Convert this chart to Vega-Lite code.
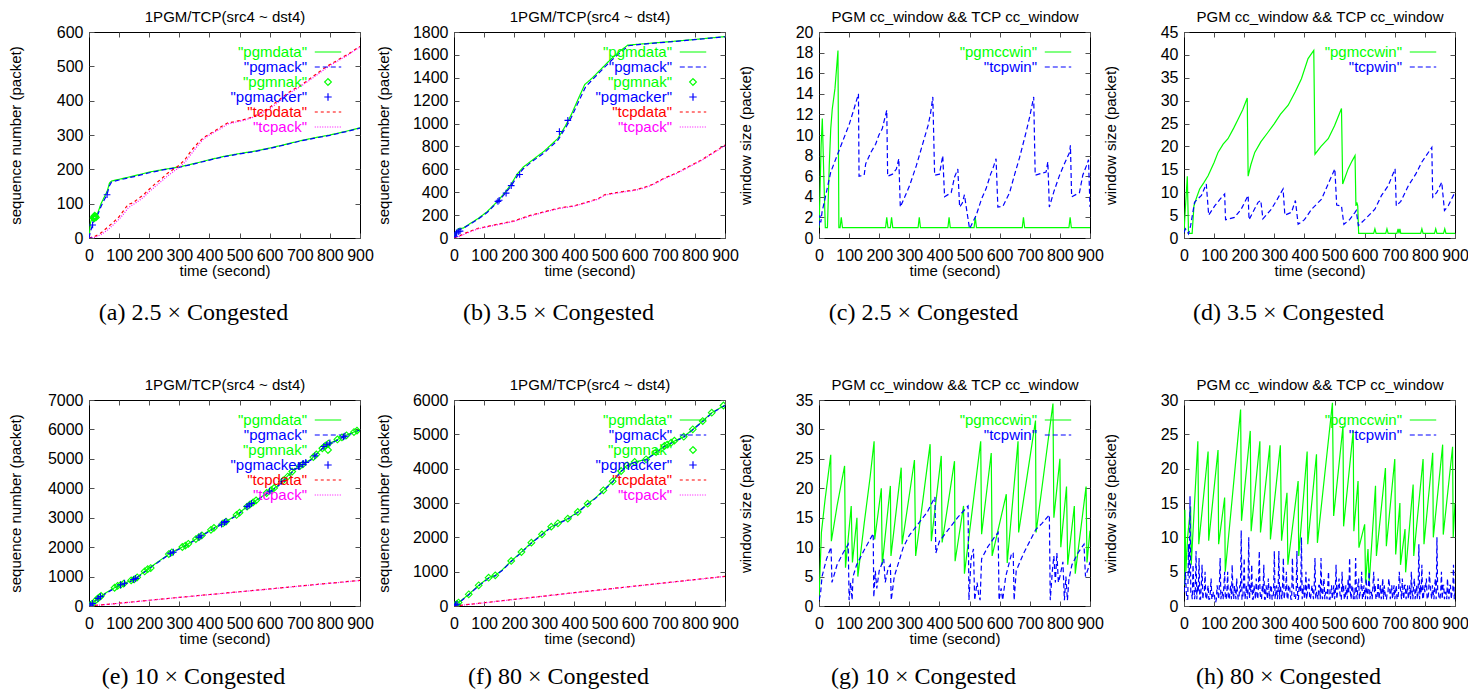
{
"$schema": "https://vega.github.io/schema/vega-lite/v6.json",
"background": "white",
"padding": {"left": 7, "top": 9, "right": 5, "bottom": 0},
"config": {
  "font": "Liberation Sans",
  "view": {"stroke": "#000000", "strokeWidth": 1},
  "axis": {"grid": false, "domain": false, "tickSize": -5, "tickColor": "#505050", "tickWidth": 1, "labelFont": "Liberation Sans", "labelFontSize": 16, "labelColor": "#000000", "titleFont": "Liberation Sans", "titleFontSize": 15, "titleFontWeight": "normal", "titleColor": "#000000", "labelFlush": false, "labelOverlap": false, "format": "d"},
  "axisBottom": {"labelPadding": 14, "titlePadding": 0},
  "axisLeft": {"labelPadding": 11},
  "axisTop": {"labels": false, "titlePadding": 7},
  "axisRight": {"labels": false},
  "legend": {"padding": 0, "rowPadding": 0, "clipHeight": 14, "labelAlign": "right", "labelOffset": -35, "symbolOffset": 10, "symbolSize": 100, "symbolStrokeWidth": 1.2, "labelFont": "Liberation Sans", "labelFontSize": 15, "symbolType": "stroke"},
  "title": {"orient": "bottom", "font": "Liberation Serif", "fontSize": 24, "fontWeight": "normal", "color": "#000000", "offset": 23, "dx": -31, "anchor": "middle", "frame": "group"}
},
"datasets": {
"a": [
{"s":"pgmdata","t":0,"v":0},{"s":"pgmdata","t":5,"v":45},{"s":"pgmdata","t":10,"v":58},{"s":"pgmdata","t":20,"v":64},{"s":"pgmdata","t":30,"v":75},{"s":"pgmdata","t":40,"v":100},{"s":"pgmdata","t":50,"v":118},{"s":"pgmdata","t":60,"v":135},{"s":"pgmdata","t":68,"v":160},{"s":"pgmdata","t":75,"v":166},{"s":"pgmdata","t":100,"v":171},{"s":"pgmdata","t":150,"v":181},{"s":"pgmdata","t":200,"v":192},{"s":"pgmdata","t":250,"v":200},{"s":"pgmdata","t":300,"v":207},{"s":"pgmdata","t":350,"v":217},{"s":"pgmdata","t":400,"v":228},{"s":"pgmdata","t":450,"v":238},{"s":"pgmdata","t":500,"v":246},{"s":"pgmdata","t":550,"v":253},{"s":"pgmdata","t":600,"v":262},{"s":"pgmdata","t":650,"v":272},{"s":"pgmdata","t":700,"v":283},{"s":"pgmdata","t":750,"v":292},{"s":"pgmdata","t":800,"v":300},{"s":"pgmdata","t":850,"v":310},{"s":"pgmdata","t":900,"v":321},
{"s":"pgmack","t":0,"v":0},{"s":"pgmack","t":5,"v":20},{"s":"pgmack","t":12,"v":38},{"s":"pgmack","t":20,"v":58},{"s":"pgmack","t":30,"v":70},{"s":"pgmack","t":40,"v":92},{"s":"pgmack","t":50,"v":110},{"s":"pgmack","t":60,"v":127},{"s":"pgmack","t":68,"v":152},{"s":"pgmack","t":75,"v":163},{"s":"pgmack","t":100,"v":169},{"s":"pgmack","t":150,"v":179},{"s":"pgmack","t":200,"v":190},{"s":"pgmack","t":250,"v":199},{"s":"pgmack","t":300,"v":206},{"s":"pgmack","t":350,"v":216},{"s":"pgmack","t":400,"v":227},{"s":"pgmack","t":450,"v":237},{"s":"pgmack","t":500,"v":245},{"s":"pgmack","t":550,"v":252},{"s":"pgmack","t":600,"v":261},{"s":"pgmack","t":650,"v":271},{"s":"pgmack","t":700,"v":282},{"s":"pgmack","t":750,"v":291},{"s":"pgmack","t":800,"v":299},{"s":"pgmack","t":850,"v":309},{"s":"pgmack","t":900,"v":320},
{"s":"tcpdata","t":0,"v":0},{"s":"tcpdata","t":20,"v":5},{"s":"tcpdata","t":40,"v":15},{"s":"tcpdata","t":60,"v":30},{"s":"tcpdata","t":80,"v":45},{"s":"tcpdata","t":100,"v":62},{"s":"tcpdata","t":115,"v":80},{"s":"tcpdata","t":130,"v":98},{"s":"tcpdata","t":145,"v":102},{"s":"tcpdata","t":160,"v":112},{"s":"tcpdata","t":180,"v":125},{"s":"tcpdata","t":200,"v":142},{"s":"tcpdata","t":220,"v":158},{"s":"tcpdata","t":240,"v":172},{"s":"tcpdata","t":260,"v":188},{"s":"tcpdata","t":280,"v":200},{"s":"tcpdata","t":300,"v":212},{"s":"tcpdata","t":320,"v":230},{"s":"tcpdata","t":340,"v":255},{"s":"tcpdata","t":360,"v":275},{"s":"tcpdata","t":380,"v":292},{"s":"tcpdata","t":400,"v":303},{"s":"tcpdata","t":420,"v":313},{"s":"tcpdata","t":440,"v":325},{"s":"tcpdata","t":460,"v":335},{"s":"tcpdata","t":480,"v":338},{"s":"tcpdata","t":500,"v":342},{"s":"tcpdata","t":520,"v":346},{"s":"tcpdata","t":540,"v":352},{"s":"tcpdata","t":560,"v":360},{"s":"tcpdata","t":580,"v":370},{"s":"tcpdata","t":600,"v":380},{"s":"tcpdata","t":620,"v":395},{"s":"tcpdata","t":640,"v":408},{"s":"tcpdata","t":660,"v":422},{"s":"tcpdata","t":680,"v":433},{"s":"tcpdata","t":700,"v":443},{"s":"tcpdata","t":720,"v":455},{"s":"tcpdata","t":740,"v":468},{"s":"tcpdata","t":760,"v":481},{"s":"tcpdata","t":780,"v":494},{"s":"tcpdata","t":800,"v":505},{"s":"tcpdata","t":820,"v":515},{"s":"tcpdata","t":840,"v":526},{"s":"tcpdata","t":860,"v":535},{"s":"tcpdata","t":880,"v":547},{"s":"tcpdata","t":900,"v":558},
{"s":"tcpack","t":0,"v":0},{"s":"tcpack","t":20,"v":2},{"s":"tcpack","t":40,"v":10},{"s":"tcpack","t":60,"v":22},{"s":"tcpack","t":80,"v":38},{"s":"tcpack","t":100,"v":55},{"s":"tcpack","t":115,"v":70},{"s":"tcpack","t":130,"v":88},{"s":"tcpack","t":145,"v":97},{"s":"tcpack","t":160,"v":105},{"s":"tcpack","t":180,"v":118},{"s":"tcpack","t":200,"v":135},{"s":"tcpack","t":220,"v":150},{"s":"tcpack","t":240,"v":165},{"s":"tcpack","t":260,"v":180},{"s":"tcpack","t":280,"v":193},{"s":"tcpack","t":300,"v":206},{"s":"tcpack","t":320,"v":222},{"s":"tcpack","t":340,"v":245},{"s":"tcpack","t":360,"v":268},{"s":"tcpack","t":380,"v":288},{"s":"tcpack","t":400,"v":300},{"s":"tcpack","t":420,"v":310},{"s":"tcpack","t":440,"v":320},{"s":"tcpack","t":460,"v":332},{"s":"tcpack","t":480,"v":336},{"s":"tcpack","t":500,"v":340},{"s":"tcpack","t":520,"v":344},{"s":"tcpack","t":540,"v":350},{"s":"tcpack","t":560,"v":357},{"s":"tcpack","t":580,"v":366},{"s":"tcpack","t":600,"v":376},{"s":"tcpack","t":620,"v":390},{"s":"tcpack","t":640,"v":404},{"s":"tcpack","t":660,"v":418},{"s":"tcpack","t":680,"v":430},{"s":"tcpack","t":700,"v":440},{"s":"tcpack","t":720,"v":452},{"s":"tcpack","t":740,"v":464},{"s":"tcpack","t":760,"v":477},{"s":"tcpack","t":780,"v":490},{"s":"tcpack","t":800,"v":502},{"s":"tcpack","t":820,"v":512},{"s":"tcpack","t":840,"v":523},{"s":"tcpack","t":860,"v":533},{"s":"tcpack","t":880,"v":545},{"s":"tcpack","t":900,"v":556},
{"s":"pgmnak","t":15,"v":58},{"s":"pgmnak","t":17,"v":62},{"s":"pgmnak","t":19,"v":65},{"s":"pgmnak","t":21,"v":62},{"s":"pgmnak","t":23,"v":60},{"s":"pgmnak","t":18,"v":58},
{"s":"pgmacker","t":0,"v":0},{"s":"pgmacker","t":12,"v":38},{"s":"pgmacker","t":60,"v":126}
],
"b": [
{"s":"pgmdata","t":0,"v":0},{"s":"pgmdata","t":8,"v":60},{"s":"pgmdata","t":15,"v":82},{"s":"pgmdata","t":30,"v":86},{"s":"pgmdata","t":50,"v":120},{"s":"pgmdata","t":80,"v":170},{"s":"pgmdata","t":110,"v":230},{"s":"pgmdata","t":146,"v":325},{"s":"pgmdata","t":170,"v":400},{"s":"pgmdata","t":190,"v":470},{"s":"pgmdata","t":210,"v":560},{"s":"pgmdata","t":230,"v":620},{"s":"pgmdata","t":260,"v":680},{"s":"pgmdata","t":300,"v":760},{"s":"pgmdata","t":345,"v":870},{"s":"pgmdata","t":370,"v":980},{"s":"pgmdata","t":390,"v":1080},{"s":"pgmdata","t":410,"v":1200},{"s":"pgmdata","t":434,"v":1340},{"s":"pgmdata","t":460,"v":1400},{"s":"pgmdata","t":490,"v":1480},{"s":"pgmdata","t":520,"v":1560},{"s":"pgmdata","t":550,"v":1630},{"s":"pgmdata","t":577,"v":1685},{"s":"pgmdata","t":620,"v":1695},{"s":"pgmdata","t":700,"v":1712},{"s":"pgmdata","t":800,"v":1735},{"s":"pgmdata","t":900,"v":1760},
{"s":"pgmack","t":0,"v":0},{"s":"pgmack","t":8,"v":40},{"s":"pgmack","t":15,"v":70},{"s":"pgmack","t":30,"v":84},{"s":"pgmack","t":50,"v":115},{"s":"pgmack","t":80,"v":165},{"s":"pgmack","t":110,"v":222},{"s":"pgmack","t":146,"v":318},{"s":"pgmack","t":170,"v":390},{"s":"pgmack","t":190,"v":455},{"s":"pgmack","t":210,"v":540},{"s":"pgmack","t":230,"v":605},{"s":"pgmack","t":260,"v":670},{"s":"pgmack","t":300,"v":745},{"s":"pgmack","t":345,"v":855},{"s":"pgmack","t":370,"v":960},{"s":"pgmack","t":390,"v":1055},{"s":"pgmack","t":410,"v":1170},{"s":"pgmack","t":437,"v":1320},{"s":"pgmack","t":460,"v":1385},{"s":"pgmack","t":490,"v":1465},{"s":"pgmack","t":520,"v":1545},{"s":"pgmack","t":550,"v":1615},{"s":"pgmack","t":580,"v":1680},{"s":"pgmack","t":620,"v":1692},{"s":"pgmack","t":700,"v":1710},{"s":"pgmack","t":800,"v":1733},{"s":"pgmack","t":900,"v":1758},
{"s":"tcpdata","t":0,"v":0},{"s":"tcpdata","t":20,"v":20},{"s":"tcpdata","t":40,"v":45},{"s":"tcpdata","t":60,"v":65},{"s":"tcpdata","t":80,"v":85},{"s":"tcpdata","t":100,"v":95},{"s":"tcpdata","t":130,"v":112},{"s":"tcpdata","t":160,"v":128},{"s":"tcpdata","t":200,"v":150},{"s":"tcpdata","t":250,"v":195},{"s":"tcpdata","t":300,"v":230},{"s":"tcpdata","t":350,"v":262},{"s":"tcpdata","t":400,"v":282},{"s":"tcpdata","t":450,"v":320},{"s":"tcpdata","t":480,"v":345},{"s":"tcpdata","t":500,"v":378},{"s":"tcpdata","t":520,"v":388},{"s":"tcpdata","t":560,"v":405},{"s":"tcpdata","t":600,"v":420},{"s":"tcpdata","t":630,"v":440},{"s":"tcpdata","t":660,"v":470},{"s":"tcpdata","t":700,"v":525},{"s":"tcpdata","t":740,"v":570},{"s":"tcpdata","t":780,"v":625},{"s":"tcpdata","t":820,"v":680},{"s":"tcpdata","t":860,"v":745},{"s":"tcpdata","t":900,"v":812},
{"s":"tcpack","t":0,"v":0},{"s":"tcpack","t":20,"v":15},{"s":"tcpack","t":40,"v":40},{"s":"tcpack","t":60,"v":60},{"s":"tcpack","t":80,"v":80},{"s":"tcpack","t":100,"v":92},{"s":"tcpack","t":130,"v":108},{"s":"tcpack","t":160,"v":124},{"s":"tcpack","t":200,"v":146},{"s":"tcpack","t":250,"v":190},{"s":"tcpack","t":300,"v":226},{"s":"tcpack","t":350,"v":258},{"s":"tcpack","t":400,"v":278},{"s":"tcpack","t":450,"v":316},{"s":"tcpack","t":480,"v":340},{"s":"tcpack","t":500,"v":373},{"s":"tcpack","t":520,"v":384},{"s":"tcpack","t":560,"v":401},{"s":"tcpack","t":600,"v":416},{"s":"tcpack","t":630,"v":436},{"s":"tcpack","t":660,"v":465},{"s":"tcpack","t":700,"v":520},{"s":"tcpack","t":740,"v":565},{"s":"tcpack","t":780,"v":620},{"s":"tcpack","t":820,"v":675},{"s":"tcpack","t":860,"v":740},{"s":"tcpack","t":900,"v":807},
{"s":"pgmacker","t":3,"v":15},{"s":"pgmacker","t":8,"v":45},{"s":"pgmacker","t":14,"v":55},{"s":"pgmacker","t":20,"v":60},{"s":"pgmacker","t":146,"v":320},{"s":"pgmacker","t":150,"v":330},{"s":"pgmacker","t":173,"v":392},{"s":"pgmacker","t":190,"v":458},{"s":"pgmacker","t":218,"v":555},{"s":"pgmacker","t":350,"v":930},{"s":"pgmacker","t":378,"v":1028}
],
"c": [
{"s":"pgmccwin","t":0,"v":1},{"s":"pgmccwin","t":3,"v":4},{"s":"pgmccwin","t":7,"v":9},{"s":"pgmccwin","t":11,"v":11.6},{"s":"pgmccwin","t":16,"v":6},{"s":"pgmccwin","t":21,"v":1},{"s":"pgmccwin","t":28,"v":1},{"s":"pgmccwin","t":34,"v":7},{"s":"pgmccwin","t":39,"v":10.6},{"s":"pgmccwin","t":44,"v":12.5},{"s":"pgmccwin","t":53,"v":14.5},{"s":"pgmccwin","t":63,"v":18.2},{"s":"pgmccwin","t":66,"v":1},{"s":"pgmccwin","t":70,"v":1},{"s":"pgmccwin","t":74,"v":2},{"s":"pgmccwin","t":78,"v":1},{"s":"pgmccwin","t":221,"v":1},{"s":"pgmccwin","t":225,"v":2},{"s":"pgmccwin","t":229,"v":1},{"s":"pgmccwin","t":237,"v":1},{"s":"pgmccwin","t":241,"v":2},{"s":"pgmccwin","t":245,"v":1},{"s":"pgmccwin","t":329,"v":1},{"s":"pgmccwin","t":333,"v":2},{"s":"pgmccwin","t":337,"v":1},{"s":"pgmccwin","t":428,"v":1},{"s":"pgmccwin","t":432,"v":2},{"s":"pgmccwin","t":436,"v":1},{"s":"pgmccwin","t":515,"v":1},{"s":"pgmccwin","t":519,"v":2},{"s":"pgmccwin","t":523,"v":1},{"s":"pgmccwin","t":675,"v":1},{"s":"pgmccwin","t":679,"v":2},{"s":"pgmccwin","t":683,"v":1},{"s":"pgmccwin","t":830,"v":1},{"s":"pgmccwin","t":834,"v":2},{"s":"pgmccwin","t":838,"v":1},{"s":"pgmccwin","t":900,"v":1},
{"s":"tcpwin","t":0,"v":1.2},{"s":"tcpwin","t":3,"v":2.2},{"s":"tcpwin","t":6,"v":1.5},{"s":"tcpwin","t":10,"v":2.5},{"s":"tcpwin","t":22,"v":4.1},{"s":"tcpwin","t":39,"v":6.4},{"s":"tcpwin","t":60,"v":8},{"s":"tcpwin","t":80,"v":9.5},{"s":"tcpwin","t":100,"v":11},{"s":"tcpwin","t":116,"v":12.5},{"s":"tcpwin","t":131,"v":14},{"s":"tcpwin","t":133,"v":6},{"s":"tcpwin","t":150,"v":6.1},{"s":"tcpwin","t":155,"v":7.2},{"s":"tcpwin","t":172,"v":8.3},{"s":"tcpwin","t":188,"v":9.1},{"s":"tcpwin","t":199,"v":10},{"s":"tcpwin","t":210,"v":10.6},{"s":"tcpwin","t":215,"v":11.2},{"s":"tcpwin","t":225,"v":12.4},{"s":"tcpwin","t":228,"v":6},{"s":"tcpwin","t":244,"v":6.2},{"s":"tcpwin","t":257,"v":6.7},{"s":"tcpwin","t":265,"v":7.7},{"s":"tcpwin","t":270,"v":3},{"s":"tcpwin","t":285,"v":4},{"s":"tcpwin","t":301,"v":5.1},{"s":"tcpwin","t":323,"v":7},{"s":"tcpwin","t":340,"v":8.7},{"s":"tcpwin","t":362,"v":10.9},{"s":"tcpwin","t":370,"v":12},{"s":"tcpwin","t":378,"v":13.7},{"s":"tcpwin","t":384,"v":6.1},{"s":"tcpwin","t":400,"v":6.2},{"s":"tcpwin","t":411,"v":8},{"s":"tcpwin","t":417,"v":4},{"s":"tcpwin","t":439,"v":4.4},{"s":"tcpwin","t":450,"v":5.9},{"s":"tcpwin","t":461,"v":6.7},{"s":"tcpwin","t":467,"v":3},{"s":"tcpwin","t":476,"v":3.4},{"s":"tcpwin","t":483,"v":4.2},{"s":"tcpwin","t":490,"v":2.8},{"s":"tcpwin","t":500,"v":0.9},{"s":"tcpwin","t":522,"v":2.2},{"s":"tcpwin","t":540,"v":3.8},{"s":"tcpwin","t":555,"v":4.8},{"s":"tcpwin","t":570,"v":6.2},{"s":"tcpwin","t":577,"v":6.7},{"s":"tcpwin","t":588,"v":7.7},{"s":"tcpwin","t":594,"v":3},{"s":"tcpwin","t":611,"v":3.1},{"s":"tcpwin","t":633,"v":4.4},{"s":"tcpwin","t":650,"v":6.2},{"s":"tcpwin","t":666,"v":7.8},{"s":"tcpwin","t":688,"v":10.3},{"s":"tcpwin","t":700,"v":11.8},{"s":"tcpwin","t":713,"v":13.7},{"s":"tcpwin","t":718,"v":6.1},{"s":"tcpwin","t":754,"v":6.4},{"s":"tcpwin","t":760,"v":7.4},{"s":"tcpwin","t":765,"v":3},{"s":"tcpwin","t":780,"v":4.5},{"s":"tcpwin","t":799,"v":6.1},{"s":"tcpwin","t":815,"v":7.2},{"s":"tcpwin","t":832,"v":8.3},{"s":"tcpwin","t":835,"v":9},{"s":"tcpwin","t":839,"v":4},{"s":"tcpwin","t":865,"v":4.4},{"s":"tcpwin","t":876,"v":6.1},{"s":"tcpwin","t":888,"v":7},{"s":"tcpwin","t":895,"v":7.6},{"s":"tcpwin","t":900,"v":3}
],
"d": [
{"s":"pgmccwin","t":0,"v":1.2},{"s":"pgmccwin","t":5,"v":7},{"s":"pgmccwin","t":11,"v":13.5},{"s":"pgmccwin","t":15,"v":1},{"s":"pgmccwin","t":27,"v":1},{"s":"pgmccwin","t":33,"v":7},{"s":"pgmccwin","t":40,"v":8.5},{"s":"pgmccwin","t":52,"v":10.7},{"s":"pgmccwin","t":65,"v":12},{"s":"pgmccwin","t":80,"v":13.6},{"s":"pgmccwin","t":100,"v":16.5},{"s":"pgmccwin","t":113,"v":18.7},{"s":"pgmccwin","t":130,"v":20.5},{"s":"pgmccwin","t":146,"v":21.7},{"s":"pgmccwin","t":165,"v":24},{"s":"pgmccwin","t":180,"v":26},{"s":"pgmccwin","t":195,"v":28},{"s":"pgmccwin","t":210,"v":30.6},{"s":"pgmccwin","t":213,"v":13.5},{"s":"pgmccwin","t":222,"v":16},{"s":"pgmccwin","t":235,"v":18.7},{"s":"pgmccwin","t":255,"v":21},{"s":"pgmccwin","t":279,"v":23.1},{"s":"pgmccwin","t":300,"v":25},{"s":"pgmccwin","t":320,"v":27},{"s":"pgmccwin","t":346,"v":29},{"s":"pgmccwin","t":370,"v":32},{"s":"pgmccwin","t":390,"v":34.8},{"s":"pgmccwin","t":412,"v":39.2},{"s":"pgmccwin","t":431,"v":41},{"s":"pgmccwin","t":435,"v":18.3},{"s":"pgmccwin","t":455,"v":20},{"s":"pgmccwin","t":479,"v":21.7},{"s":"pgmccwin","t":500,"v":24.5},{"s":"pgmccwin","t":523,"v":28.3},{"s":"pgmccwin","t":527,"v":11.8},{"s":"pgmccwin","t":545,"v":15.1},{"s":"pgmccwin","t":558,"v":16.8},{"s":"pgmccwin","t":568,"v":18},{"s":"pgmccwin","t":571,"v":7},{"s":"pgmccwin","t":574,"v":7.8},{"s":"pgmccwin","t":577,"v":7},{"s":"pgmccwin","t":580,"v":1},{"s":"pgmccwin","t":630,"v":1},{"s":"pgmccwin","t":634,"v":2},{"s":"pgmccwin","t":638,"v":1},{"s":"pgmccwin","t":670,"v":1},{"s":"pgmccwin","t":674,"v":2},{"s":"pgmccwin","t":678,"v":1},{"s":"pgmccwin","t":707,"v":1},{"s":"pgmccwin","t":711,"v":2},{"s":"pgmccwin","t":714,"v":1},{"s":"pgmccwin","t":717,"v":2},{"s":"pgmccwin","t":720,"v":1},{"s":"pgmccwin","t":786,"v":1},{"s":"pgmccwin","t":790,"v":2},{"s":"pgmccwin","t":794,"v":1},{"s":"pgmccwin","t":832,"v":1},{"s":"pgmccwin","t":836,"v":2},{"s":"pgmccwin","t":840,"v":1},{"s":"pgmccwin","t":862,"v":1},{"s":"pgmccwin","t":866,"v":2},{"s":"pgmccwin","t":870,"v":1},{"s":"pgmccwin","t":900,"v":1},
{"s":"tcpwin","t":0,"v":1.2},{"s":"tcpwin","t":5,"v":2},{"s":"tcpwin","t":10,"v":1.5},{"s":"tcpwin","t":15,"v":0.9},{"s":"tcpwin","t":22,"v":2.7},{"s":"tcpwin","t":35,"v":7.8},{"s":"tcpwin","t":45,"v":8.5},{"s":"tcpwin","t":58,"v":9.3},{"s":"tcpwin","t":74,"v":11.8},{"s":"tcpwin","t":82,"v":5},{"s":"tcpwin","t":102,"v":7},{"s":"tcpwin","t":120,"v":8.5},{"s":"tcpwin","t":135,"v":9.6},{"s":"tcpwin","t":138,"v":4},{"s":"tcpwin","t":168,"v":4.5},{"s":"tcpwin","t":190,"v":6.3},{"s":"tcpwin","t":213,"v":9.3},{"s":"tcpwin","t":216,"v":4},{"s":"tcpwin","t":246,"v":7.8},{"s":"tcpwin","t":255,"v":8.2},{"s":"tcpwin","t":262,"v":4.2},{"s":"tcpwin","t":290,"v":6.3},{"s":"tcpwin","t":310,"v":8.5},{"s":"tcpwin","t":329,"v":10.7},{"s":"tcpwin","t":335,"v":5},{"s":"tcpwin","t":357,"v":5.6},{"s":"tcpwin","t":370,"v":8.2},{"s":"tcpwin","t":379,"v":3},{"s":"tcpwin","t":400,"v":4},{"s":"tcpwin","t":424,"v":6.3},{"s":"tcpwin","t":457,"v":8.5},{"s":"tcpwin","t":480,"v":12},{"s":"tcpwin","t":501,"v":15.1},{"s":"tcpwin","t":507,"v":7.2},{"s":"tcpwin","t":523,"v":7},{"s":"tcpwin","t":531,"v":3},{"s":"tcpwin","t":550,"v":4},{"s":"tcpwin","t":568,"v":5.6},{"s":"tcpwin","t":572,"v":6},{"s":"tcpwin","t":579,"v":2.7},{"s":"tcpwin","t":600,"v":4},{"s":"tcpwin","t":634,"v":6.3},{"s":"tcpwin","t":656,"v":9.3},{"s":"tcpwin","t":678,"v":11.4},{"s":"tcpwin","t":701,"v":15.1},{"s":"tcpwin","t":705,"v":7},{"s":"tcpwin","t":720,"v":8},{"s":"tcpwin","t":745,"v":11.4},{"s":"tcpwin","t":770,"v":14},{"s":"tcpwin","t":789,"v":16.5},{"s":"tcpwin","t":823,"v":19.8},{"s":"tcpwin","t":826,"v":8.9},{"s":"tcpwin","t":840,"v":10},{"s":"tcpwin","t":856,"v":12.2},{"s":"tcpwin","t":865,"v":6},{"s":"tcpwin","t":878,"v":7.1},{"s":"tcpwin","t":900,"v":10}
],
"e": [
{"s":"pgmdata","t":0,"v":0},{"s":"pgmdata","t":39,"v":340},{"s":"pgmdata","t":94,"v":680},{"s":"pgmdata","t":150,"v":906},{"s":"pgmdata","t":194,"v":1246},{"s":"pgmdata","t":272,"v":1812},{"s":"pgmdata","t":321,"v":2061},{"s":"pgmdata","t":371,"v":2378},{"s":"pgmdata","t":416,"v":2661},{"s":"pgmdata","t":449,"v":2831},{"s":"pgmdata","t":493,"v":3114},{"s":"pgmdata","t":527,"v":3397},{"s":"pgmdata","t":560,"v":3624},{"s":"pgmdata","t":626,"v":4077},{"s":"pgmdata","t":682,"v":4643},{"s":"pgmdata","t":737,"v":4983},{"s":"pgmdata","t":782,"v":5436},{"s":"pgmdata","t":815,"v":5606},{"s":"pgmdata","t":848,"v":5776},{"s":"pgmdata","t":900,"v":6000},
{"s":"pgmack","t":0,"v":0},{"s":"pgmack","t":39,"v":320},{"s":"pgmack","t":94,"v":660},{"s":"pgmack","t":150,"v":886},{"s":"pgmack","t":194,"v":1226},{"s":"pgmack","t":272,"v":1792},{"s":"pgmack","t":321,"v":2041},{"s":"pgmack","t":371,"v":2358},{"s":"pgmack","t":416,"v":2641},{"s":"pgmack","t":449,"v":2811},{"s":"pgmack","t":493,"v":3094},{"s":"pgmack","t":527,"v":3377},{"s":"pgmack","t":560,"v":3604},{"s":"pgmack","t":626,"v":4057},{"s":"pgmack","t":682,"v":4623},{"s":"pgmack","t":737,"v":4963},{"s":"pgmack","t":782,"v":5416},{"s":"pgmack","t":815,"v":5586},{"s":"pgmack","t":848,"v":5756},{"s":"pgmack","t":900,"v":5980},
{"s":"tcpdata","t":0,"v":0},{"s":"tcpdata","t":100,"v":95},{"s":"tcpdata","t":200,"v":195},{"s":"tcpdata","t":300,"v":295},{"s":"tcpdata","t":400,"v":390},{"s":"tcpdata","t":500,"v":485},{"s":"tcpdata","t":600,"v":580},{"s":"tcpdata","t":700,"v":680},{"s":"tcpdata","t":800,"v":775},{"s":"tcpdata","t":900,"v":870},
{"s":"tcpack","t":0,"v":0},{"s":"tcpack","t":100,"v":90},{"s":"tcpack","t":200,"v":190},{"s":"tcpack","t":300,"v":290},{"s":"tcpack","t":400,"v":385},{"s":"tcpack","t":500,"v":480},{"s":"tcpack","t":600,"v":575},{"s":"tcpack","t":700,"v":675},{"s":"tcpack","t":800,"v":770},{"s":"tcpack","t":900,"v":865},
{"s":"pgmnak","t":5,"v":30},{"s":"pgmnak","t":10,"v":70},{"s":"pgmnak","t":25,"v":220},{"s":"pgmnak","t":30,"v":260},{"s":"pgmnak","t":35,"v":300},{"s":"pgmnak","t":40,"v":345},{"s":"pgmnak","t":85,"v":620},{"s":"pgmnak","t":95,"v":685},{"s":"pgmnak","t":105,"v":720},{"s":"pgmnak","t":115,"v":760},{"s":"pgmnak","t":140,"v":870},{"s":"pgmnak","t":150,"v":906},{"s":"pgmnak","t":160,"v":975},{"s":"pgmnak","t":185,"v":1175},{"s":"pgmnak","t":195,"v":1250},{"s":"pgmnak","t":205,"v":1290},{"s":"pgmnak","t":265,"v":1765},{"s":"pgmnak","t":275,"v":1820},{"s":"pgmnak","t":310,"v":2005},{"s":"pgmnak","t":320,"v":2055},{"s":"pgmnak","t":330,"v":2115},{"s":"pgmnak","t":355,"v":2275},{"s":"pgmnak","t":365,"v":2340},{"s":"pgmnak","t":375,"v":2400},{"s":"pgmnak","t":405,"v":2590},{"s":"pgmnak","t":415,"v":2655},{"s":"pgmnak","t":445,"v":2810},{"s":"pgmnak","t":455,"v":2870},{"s":"pgmnak","t":490,"v":3095},{"s":"pgmnak","t":500,"v":3170},{"s":"pgmnak","t":525,"v":3380},{"s":"pgmnak","t":535,"v":3450},{"s":"pgmnak","t":545,"v":3520},{"s":"pgmnak","t":555,"v":3590},{"s":"pgmnak","t":590,"v":3840},{"s":"pgmnak","t":605,"v":3940},{"s":"pgmnak","t":615,"v":4010},{"s":"pgmnak","t":645,"v":4270},{"s":"pgmnak","t":660,"v":4400},{"s":"pgmnak","t":675,"v":4570},{"s":"pgmnak","t":700,"v":4750},{"s":"pgmnak","t":710,"v":4810},{"s":"pgmnak","t":745,"v":5060},{"s":"pgmnak","t":755,"v":5150},{"s":"pgmnak","t":775,"v":5360},{"s":"pgmnak","t":785,"v":5450},{"s":"pgmnak","t":795,"v":5520},{"s":"pgmnak","t":825,"v":5660},{"s":"pgmnak","t":840,"v":5730},{"s":"pgmnak","t":855,"v":5800},{"s":"pgmnak","t":880,"v":5910},{"s":"pgmnak","t":890,"v":5960},
{"s":"pgmacker","t":5,"v":30},{"s":"pgmacker","t":12,"v":90},{"s":"pgmacker","t":30,"v":260},{"s":"pgmacker","t":38,"v":320},{"s":"pgmacker","t":105,"v":720},{"s":"pgmacker","t":118,"v":775},{"s":"pgmacker","t":148,"v":900},{"s":"pgmacker","t":155,"v":940},{"s":"pgmacker","t":270,"v":1790},{"s":"pgmacker","t":280,"v":1830},{"s":"pgmacker","t":365,"v":2340},{"s":"pgmacker","t":372,"v":2385},{"s":"pgmacker","t":440,"v":2780},{"s":"pgmacker","t":450,"v":2840},{"s":"pgmacker","t":455,"v":2870},{"s":"pgmacker","t":525,"v":3385},{"s":"pgmacker","t":532,"v":3430},{"s":"pgmacker","t":540,"v":3485},{"s":"pgmacker","t":600,"v":3900},{"s":"pgmacker","t":640,"v":4230},{"s":"pgmacker","t":700,"v":4750},{"s":"pgmacker","t":710,"v":4810},{"s":"pgmacker","t":720,"v":4880},{"s":"pgmacker","t":750,"v":5100},{"s":"pgmacker","t":780,"v":5420},{"s":"pgmacker","t":790,"v":5480},{"s":"pgmacker","t":800,"v":5540},{"s":"pgmacker","t":845,"v":5750},{"s":"pgmacker","t":850,"v":5770}
],
"f": [
{"s":"pgmdata","t":0,"v":0},{"s":"pgmdata","t":15,"v":100},{"s":"pgmdata","t":49,"v":340},{"s":"pgmdata","t":82,"v":602},{"s":"pgmdata","t":115,"v":825},{"s":"pgmdata","t":137,"v":893},{"s":"pgmdata","t":160,"v":1050},{"s":"pgmdata","t":190,"v":1311},{"s":"pgmdata","t":224,"v":1573},{"s":"pgmdata","t":257,"v":1845},{"s":"pgmdata","t":292,"v":2087},{"s":"pgmdata","t":323,"v":2311},{"s":"pgmdata","t":345,"v":2408},{"s":"pgmdata","t":378,"v":2544},{"s":"pgmdata","t":411,"v":2738},{"s":"pgmdata","t":444,"v":2980},{"s":"pgmdata","t":470,"v":3150},{"s":"pgmdata","t":496,"v":3369},{"s":"pgmdata","t":527,"v":3631},{"s":"pgmdata","t":555,"v":3932},{"s":"pgmdata","t":575,"v":4097},{"s":"pgmdata","t":600,"v":4194},{"s":"pgmdata","t":638,"v":4272},{"s":"pgmdata","t":671,"v":4485},{"s":"pgmdata","t":699,"v":4660},{"s":"pgmdata","t":721,"v":4757},{"s":"pgmdata","t":763,"v":4932},{"s":"pgmdata","t":793,"v":5146},{"s":"pgmdata","t":826,"v":5388},{"s":"pgmdata","t":856,"v":5631},{"s":"pgmdata","t":900,"v":5854},
{"s":"pgmack","t":0,"v":0},{"s":"pgmack","t":15,"v":85},{"s":"pgmack","t":49,"v":325},{"s":"pgmack","t":82,"v":587},{"s":"pgmack","t":115,"v":810},{"s":"pgmack","t":137,"v":878},{"s":"pgmack","t":160,"v":1035},{"s":"pgmack","t":190,"v":1296},{"s":"pgmack","t":224,"v":1558},{"s":"pgmack","t":257,"v":1830},{"s":"pgmack","t":292,"v":2072},{"s":"pgmack","t":323,"v":2296},{"s":"pgmack","t":345,"v":2393},{"s":"pgmack","t":378,"v":2529},{"s":"pgmack","t":411,"v":2723},{"s":"pgmack","t":444,"v":2965},{"s":"pgmack","t":470,"v":3135},{"s":"pgmack","t":496,"v":3354},{"s":"pgmack","t":527,"v":3616},{"s":"pgmack","t":555,"v":3917},{"s":"pgmack","t":575,"v":4082},{"s":"pgmack","t":600,"v":4179},{"s":"pgmack","t":638,"v":4257},{"s":"pgmack","t":671,"v":4470},{"s":"pgmack","t":699,"v":4645},{"s":"pgmack","t":721,"v":4742},{"s":"pgmack","t":763,"v":4917},{"s":"pgmack","t":793,"v":5131},{"s":"pgmack","t":826,"v":5373},{"s":"pgmack","t":856,"v":5616},{"s":"pgmack","t":900,"v":5840},
{"s":"tcpdata","t":0,"v":0},{"s":"tcpdata","t":100,"v":95},{"s":"tcpdata","t":200,"v":195},{"s":"tcpdata","t":300,"v":290},{"s":"tcpdata","t":400,"v":390},{"s":"tcpdata","t":500,"v":485},{"s":"tcpdata","t":600,"v":580},{"s":"tcpdata","t":700,"v":675},{"s":"tcpdata","t":800,"v":770},{"s":"tcpdata","t":900,"v":865},
{"s":"tcpack","t":0,"v":0},{"s":"tcpack","t":100,"v":90},{"s":"tcpack","t":200,"v":190},{"s":"tcpack","t":300,"v":285},{"s":"tcpack","t":400,"v":385},{"s":"tcpack","t":500,"v":480},{"s":"tcpack","t":600,"v":575},{"s":"tcpack","t":700,"v":670},{"s":"tcpack","t":800,"v":765},{"s":"tcpack","t":900,"v":860},
{"s":"pgmnak","t":5,"v":30},{"s":"pgmnak","t":10,"v":60},{"s":"pgmnak","t":15,"v":100},{"s":"pgmnak","t":49,"v":340},{"s":"pgmnak","t":82,"v":602},{"s":"pgmnak","t":115,"v":825},{"s":"pgmnak","t":137,"v":893},{"s":"pgmnak","t":190,"v":1311},{"s":"pgmnak","t":224,"v":1573},{"s":"pgmnak","t":257,"v":1845},{"s":"pgmnak","t":292,"v":2087},{"s":"pgmnak","t":323,"v":2311},{"s":"pgmnak","t":345,"v":2408},{"s":"pgmnak","t":378,"v":2544},{"s":"pgmnak","t":411,"v":2738},{"s":"pgmnak","t":444,"v":2980},{"s":"pgmnak","t":496,"v":3369},{"s":"pgmnak","t":527,"v":3631},{"s":"pgmnak","t":555,"v":3932},{"s":"pgmnak","t":575,"v":4097},{"s":"pgmnak","t":600,"v":4194},{"s":"pgmnak","t":638,"v":4272},{"s":"pgmnak","t":671,"v":4485},{"s":"pgmnak","t":699,"v":4660},{"s":"pgmnak","t":708,"v":4700},{"s":"pgmnak","t":721,"v":4757},{"s":"pgmnak","t":732,"v":4816},{"s":"pgmnak","t":763,"v":4932},{"s":"pgmnak","t":793,"v":5146},{"s":"pgmnak","t":826,"v":5388},{"s":"pgmnak","t":856,"v":5631},{"s":"pgmnak","t":895,"v":5840},
{"s":"pgmacker","t":0,"v":0},{"s":"pgmacker","t":5,"v":30},{"s":"pgmacker","t":10,"v":50}
],
"g": [
{"s":"pgmccwin","t":0,"v":1},{"s":"pgmccwin","t":8,"v":12.5},{"s":"pgmccwin","t":20,"v":18},{"s":"pgmccwin","t":39,"v":25.7},{"s":"pgmccwin","t":41,"v":11},{"s":"pgmccwin","t":60,"v":17},{"s":"pgmccwin","t":85,"v":23.8},{"s":"pgmccwin","t":88,"v":6.5},{"s":"pgmccwin","t":107,"v":17},{"s":"pgmccwin","t":111,"v":7.4},{"s":"pgmccwin","t":126,"v":15},{"s":"pgmccwin","t":129,"v":5},{"s":"pgmccwin","t":150,"v":14},{"s":"pgmccwin","t":170,"v":22},{"s":"pgmccwin","t":183,"v":28},{"s":"pgmccwin","t":185,"v":11.3},{"s":"pgmccwin","t":207,"v":20},{"s":"pgmccwin","t":210,"v":7},{"s":"pgmccwin","t":237,"v":20.4},{"s":"pgmccwin","t":239,"v":8.5},{"s":"pgmccwin","t":273,"v":23.5},{"s":"pgmccwin","t":276,"v":10.5},{"s":"pgmccwin","t":317,"v":24.8},{"s":"pgmccwin","t":321,"v":8.5},{"s":"pgmccwin","t":369,"v":27.5},{"s":"pgmccwin","t":373,"v":11},{"s":"pgmccwin","t":406,"v":25.5},{"s":"pgmccwin","t":409,"v":10.8},{"s":"pgmccwin","t":450,"v":24.6},{"s":"pgmccwin","t":452,"v":7.6},{"s":"pgmccwin","t":480,"v":17},{"s":"pgmccwin","t":483,"v":5.5},{"s":"pgmccwin","t":537,"v":28},{"s":"pgmccwin","t":540,"v":12.2},{"s":"pgmccwin","t":572,"v":26},{"s":"pgmccwin","t":575,"v":8.5},{"s":"pgmccwin","t":622,"v":19},{"s":"pgmccwin","t":625,"v":7.3},{"s":"pgmccwin","t":661,"v":28},{"s":"pgmccwin","t":663,"v":12.5},{"s":"pgmccwin","t":719,"v":31.5},{"s":"pgmccwin","t":721,"v":12.5},{"s":"pgmccwin","t":777,"v":34.4},{"s":"pgmccwin","t":780,"v":15},{"s":"pgmccwin","t":800,"v":25},{"s":"pgmccwin","t":803,"v":10},{"s":"pgmccwin","t":822,"v":20.3},{"s":"pgmccwin","t":826,"v":7},{"s":"pgmccwin","t":848,"v":17},{"s":"pgmccwin","t":851,"v":5.5},{"s":"pgmccwin","t":887,"v":20.3},{"s":"pgmccwin","t":890,"v":7.4},{"s":"pgmccwin","t":900,"v":12.8},
{"s":"tcpwin","t":0,"v":1},{"s":"tcpwin","t":5,"v":2},{"s":"tcpwin","t":10,"v":5},{"s":"tcpwin","t":25,"v":8},{"s":"tcpwin","t":40,"v":10},{"s":"tcpwin","t":43,"v":4},{"s":"tcpwin","t":60,"v":7},{"s":"tcpwin","t":80,"v":9},{"s":"tcpwin","t":97,"v":10.5},{"s":"tcpwin","t":100,"v":1},{"s":"tcpwin","t":105,"v":4},{"s":"tcpwin","t":110,"v":1},{"s":"tcpwin","t":113,"v":5},{"s":"tcpwin","t":125,"v":7},{"s":"tcpwin","t":150,"v":9.5},{"s":"tcpwin","t":180,"v":12.3},{"s":"tcpwin","t":182,"v":1.5},{"s":"tcpwin","t":187,"v":6},{"s":"tcpwin","t":192,"v":3},{"s":"tcpwin","t":200,"v":6},{"s":"tcpwin","t":215,"v":8},{"s":"tcpwin","t":220,"v":4},{"s":"tcpwin","t":230,"v":6.5},{"s":"tcpwin","t":237,"v":7},{"s":"tcpwin","t":240,"v":1},{"s":"tcpwin","t":250,"v":5},{"s":"tcpwin","t":280,"v":10},{"s":"tcpwin","t":300,"v":12},{"s":"tcpwin","t":330,"v":14},{"s":"tcpwin","t":360,"v":16},{"s":"tcpwin","t":385,"v":18.5},{"s":"tcpwin","t":388,"v":9},{"s":"tcpwin","t":400,"v":11},{"s":"tcpwin","t":430,"v":13},{"s":"tcpwin","t":460,"v":15},{"s":"tcpwin","t":495,"v":17},{"s":"tcpwin","t":498,"v":1},{"s":"tcpwin","t":505,"v":8},{"s":"tcpwin","t":513,"v":9.7},{"s":"tcpwin","t":517,"v":1},{"s":"tcpwin","t":525,"v":4},{"s":"tcpwin","t":530,"v":2},{"s":"tcpwin","t":535,"v":1},{"s":"tcpwin","t":540,"v":8},{"s":"tcpwin","t":560,"v":10},{"s":"tcpwin","t":580,"v":11.5},{"s":"tcpwin","t":595,"v":12.5},{"s":"tcpwin","t":598,"v":1},{"s":"tcpwin","t":605,"v":3},{"s":"tcpwin","t":610,"v":1},{"s":"tcpwin","t":620,"v":5},{"s":"tcpwin","t":640,"v":9},{"s":"tcpwin","t":645,"v":9},{"s":"tcpwin","t":648,"v":1},{"s":"tcpwin","t":655,"v":6},{"s":"tcpwin","t":680,"v":9},{"s":"tcpwin","t":700,"v":11},{"s":"tcpwin","t":720,"v":13},{"s":"tcpwin","t":740,"v":14},{"s":"tcpwin","t":765,"v":15.5},{"s":"tcpwin","t":768,"v":1},{"s":"tcpwin","t":775,"v":6},{"s":"tcpwin","t":780,"v":8.5},{"s":"tcpwin","t":785,"v":4},{"s":"tcpwin","t":790,"v":9},{"s":"tcpwin","t":795,"v":4},{"s":"tcpwin","t":800,"v":5},{"s":"tcpwin","t":810,"v":7.5},{"s":"tcpwin","t":815,"v":1},{"s":"tcpwin","t":820,"v":5},{"s":"tcpwin","t":825,"v":1},{"s":"tcpwin","t":830,"v":4.5},{"s":"tcpwin","t":840,"v":7},{"s":"tcpwin","t":860,"v":9},{"s":"tcpwin","t":880,"v":10.5},{"s":"tcpwin","t":885,"v":5},{"s":"tcpwin","t":895,"v":6.5},{"s":"tcpwin","t":900,"v":7.5}
],
"h": [
{"s":"pgmccwin","t":0,"v":3},{"s":"pgmccwin","t":3,"v":14},{"s":"pgmccwin","t":6,"v":5},{"s":"pgmccwin","t":12,"v":10},{"s":"pgmccwin","t":22,"v":14.5},{"s":"pgmccwin","t":24,"v":6},{"s":"pgmccwin","t":46,"v":24},{"s":"pgmccwin","t":49,"v":9},{"s":"pgmccwin","t":80,"v":22.5},{"s":"pgmccwin","t":82,"v":9.5},{"s":"pgmccwin","t":113,"v":22.7},{"s":"pgmccwin","t":115,"v":9},{"s":"pgmccwin","t":135,"v":15.8},{"s":"pgmccwin","t":137,"v":5},{"s":"pgmccwin","t":188,"v":28.6},{"s":"pgmccwin","t":191,"v":12.4},{"s":"pgmccwin","t":220,"v":25.5},{"s":"pgmccwin","t":223,"v":10.9},{"s":"pgmccwin","t":252,"v":24},{"s":"pgmccwin","t":254,"v":10.7},{"s":"pgmccwin","t":285,"v":23.4},{"s":"pgmccwin","t":287,"v":9.7},{"s":"pgmccwin","t":320,"v":23.4},{"s":"pgmccwin","t":324,"v":9.5},{"s":"pgmccwin","t":342,"v":16.5},{"s":"pgmccwin","t":345,"v":6},{"s":"pgmccwin","t":379,"v":18.2},{"s":"pgmccwin","t":381,"v":7.3},{"s":"pgmccwin","t":409,"v":22.5},{"s":"pgmccwin","t":411,"v":9},{"s":"pgmccwin","t":440,"v":22.1},{"s":"pgmccwin","t":443,"v":9.2},{"s":"pgmccwin","t":493,"v":29.6},{"s":"pgmccwin","t":497,"v":13.1},{"s":"pgmccwin","t":528,"v":26.2},{"s":"pgmccwin","t":530,"v":11.6},{"s":"pgmccwin","t":562,"v":25.5},{"s":"pgmccwin","t":564,"v":10.9},{"s":"pgmccwin","t":578,"v":18.2},{"s":"pgmccwin","t":581,"v":8.5},{"s":"pgmccwin","t":600,"v":11.9},{"s":"pgmccwin","t":603,"v":3.4},{"s":"pgmccwin","t":611,"v":8.3},{"s":"pgmccwin","t":615,"v":3.4},{"s":"pgmccwin","t":636,"v":17.5},{"s":"pgmccwin","t":639,"v":7.3},{"s":"pgmccwin","t":669,"v":20.1},{"s":"pgmccwin","t":672,"v":8.7},{"s":"pgmccwin","t":700,"v":21.4},{"s":"pgmccwin","t":703,"v":7.5},{"s":"pgmccwin","t":717,"v":15},{"s":"pgmccwin","t":719,"v":6},{"s":"pgmccwin","t":734,"v":11.2},{"s":"pgmccwin","t":736,"v":4.9},{"s":"pgmccwin","t":761,"v":17.7},{"s":"pgmccwin","t":763,"v":7.3},{"s":"pgmccwin","t":794,"v":21.4},{"s":"pgmccwin","t":797,"v":9},{"s":"pgmccwin","t":826,"v":22.3},{"s":"pgmccwin","t":828,"v":10},{"s":"pgmccwin","t":859,"v":23.5},{"s":"pgmccwin","t":861,"v":10.4},{"s":"pgmccwin","t":892,"v":23.2},{"s":"pgmccwin","t":894,"v":10},{"s":"pgmccwin","t":900,"v":15},
{"s":"tcpwin","t":0,"v":2},{"s":"tcpwin","t":5,"v":5},{"s":"tcpwin","t":10,"v":1},{"s":"tcpwin","t":15,"v":9},{"s":"tcpwin","t":20,"v":16},{"s":"tcpwin","t":25,"v":2},{"s":"tcpwin","t":30,"v":6},{"s":"tcpwin","t":35,"v":1},{"s":"tcpwin","t":40,"v":8},{"s":"tcpwin","t":45,"v":3},
{"s":"tcpwin","t":50,"v":7},{"s":"tcpwin","t":55,"v":1},{"s":"tcpwin","t":60,"v":6},{"s":"tcpwin","t":65,"v":2},{"s":"tcpwin","t":70,"v":5},{"s":"tcpwin","t":75,"v":1},{"s":"tcpwin","t":80,"v":3},{"s":"tcpwin","t":85,"v":1},{"s":"tcpwin","t":90,"v":4},{"s":"tcpwin","t":95,"v":1},
{"s":"tcpwin","t":100,"v":2},{"s":"tcpwin","t":105,"v":0.5},{"s":"tcpwin","t":110,"v":3},{"s":"tcpwin","t":115,"v":1},{"s":"tcpwin","t":120,"v":7},{"s":"tcpwin","t":125,"v":2},{"s":"tcpwin","t":130,"v":1},{"s":"tcpwin","t":135,"v":5},{"s":"tcpwin","t":140,"v":1},{"s":"tcpwin","t":145,"v":5},
{"s":"tcpwin","t":150,"v":1},{"s":"tcpwin","t":155,"v":3},{"s":"tcpwin","t":160,"v":6},{"s":"tcpwin","t":165,"v":1},{"s":"tcpwin","t":170,"v":2},{"s":"tcpwin","t":175,"v":4},{"s":"tcpwin","t":180,"v":1},{"s":"tcpwin","t":185,"v":3},{"s":"tcpwin","t":190,"v":11},{"s":"tcpwin","t":195,"v":1},
{"s":"tcpwin","t":200,"v":7},{"s":"tcpwin","t":205,"v":2},{"s":"tcpwin","t":210,"v":1},{"s":"tcpwin","t":215,"v":10},{"s":"tcpwin","t":220,"v":3},{"s":"tcpwin","t":225,"v":6},{"s":"tcpwin","t":230,"v":1},{"s":"tcpwin","t":235,"v":2},{"s":"tcpwin","t":240,"v":4},{"s":"tcpwin","t":245,"v":1},
{"s":"tcpwin","t":250,"v":8},{"s":"tcpwin","t":255,"v":1},{"s":"tcpwin","t":260,"v":3},{"s":"tcpwin","t":265,"v":6},{"s":"tcpwin","t":270,"v":1},{"s":"tcpwin","t":275,"v":2},{"s":"tcpwin","t":280,"v":4},{"s":"tcpwin","t":285,"v":1},{"s":"tcpwin","t":290,"v":3},{"s":"tcpwin","t":295,"v":1},
{"s":"tcpwin","t":300,"v":8},{"s":"tcpwin","t":305,"v":2},{"s":"tcpwin","t":310,"v":1},{"s":"tcpwin","t":315,"v":8},{"s":"tcpwin","t":320,"v":3},{"s":"tcpwin","t":325,"v":1},{"s":"tcpwin","t":330,"v":7},{"s":"tcpwin","t":335,"v":2},{"s":"tcpwin","t":340,"v":5},{"s":"tcpwin","t":345,"v":1},
{"s":"tcpwin","t":350,"v":3},{"s":"tcpwin","t":355,"v":1},{"s":"tcpwin","t":360,"v":7},{"s":"tcpwin","t":365,"v":2},{"s":"tcpwin","t":370,"v":1},{"s":"tcpwin","t":375,"v":8},{"s":"tcpwin","t":380,"v":1},{"s":"tcpwin","t":385,"v":3},{"s":"tcpwin","t":390,"v":10},{"s":"tcpwin","t":395,"v":2},
{"s":"tcpwin","t":400,"v":1},{"s":"tcpwin","t":405,"v":5},{"s":"tcpwin","t":410,"v":2},{"s":"tcpwin","t":415,"v":4},{"s":"tcpwin","t":420,"v":1},{"s":"tcpwin","t":425,"v":3},{"s":"tcpwin","t":430,"v":1},{"s":"tcpwin","t":435,"v":7},{"s":"tcpwin","t":440,"v":2},{"s":"tcpwin","t":445,"v":1},
{"s":"tcpwin","t":450,"v":3},{"s":"tcpwin","t":455,"v":7},{"s":"tcpwin","t":460,"v":1},{"s":"tcpwin","t":465,"v":4},{"s":"tcpwin","t":470,"v":2},{"s":"tcpwin","t":475,"v":1},{"s":"tcpwin","t":480,"v":5},{"s":"tcpwin","t":485,"v":1},{"s":"tcpwin","t":490,"v":3},{"s":"tcpwin","t":495,"v":2},
{"s":"tcpwin","t":500,"v":1},{"s":"tcpwin","t":505,"v":6},{"s":"tcpwin","t":510,"v":2},{"s":"tcpwin","t":515,"v":4},{"s":"tcpwin","t":520,"v":1},{"s":"tcpwin","t":525,"v":5},{"s":"tcpwin","t":530,"v":3},{"s":"tcpwin","t":535,"v":1},{"s":"tcpwin","t":540,"v":2},{"s":"tcpwin","t":545,"v":4},
{"s":"tcpwin","t":550,"v":7},{"s":"tcpwin","t":555,"v":1},{"s":"tcpwin","t":560,"v":3},{"s":"tcpwin","t":565,"v":2},{"s":"tcpwin","t":570,"v":7},{"s":"tcpwin","t":575,"v":1},{"s":"tcpwin","t":580,"v":4},{"s":"tcpwin","t":585,"v":2},{"s":"tcpwin","t":590,"v":5},{"s":"tcpwin","t":595,"v":1},
{"s":"tcpwin","t":600,"v":2},{"s":"tcpwin","t":605,"v":4},{"s":"tcpwin","t":610,"v":1},{"s":"tcpwin","t":615,"v":5},{"s":"tcpwin","t":620,"v":2},{"s":"tcpwin","t":625,"v":1},{"s":"tcpwin","t":630,"v":5},{"s":"tcpwin","t":635,"v":3},{"s":"tcpwin","t":640,"v":1},{"s":"tcpwin","t":645,"v":4},
{"s":"tcpwin","t":650,"v":2},{"s":"tcpwin","t":655,"v":1},{"s":"tcpwin","t":660,"v":4},{"s":"tcpwin","t":665,"v":3},{"s":"tcpwin","t":670,"v":1},{"s":"tcpwin","t":675,"v":2},{"s":"tcpwin","t":680,"v":4},{"s":"tcpwin","t":685,"v":1},{"s":"tcpwin","t":690,"v":3},{"s":"tcpwin","t":695,"v":2},
{"s":"tcpwin","t":700,"v":1},{"s":"tcpwin","t":705,"v":3},{"s":"tcpwin","t":710,"v":1},{"s":"tcpwin","t":715,"v":5},{"s":"tcpwin","t":720,"v":2},{"s":"tcpwin","t":725,"v":4},{"s":"tcpwin","t":730,"v":1},{"s":"tcpwin","t":735,"v":3},{"s":"tcpwin","t":740,"v":2},{"s":"tcpwin","t":745,"v":1},
{"s":"tcpwin","t":750,"v":3},{"s":"tcpwin","t":755,"v":5},{"s":"tcpwin","t":760,"v":1},{"s":"tcpwin","t":765,"v":4},{"s":"tcpwin","t":770,"v":2},{"s":"tcpwin","t":775,"v":1},{"s":"tcpwin","t":780,"v":9},{"s":"tcpwin","t":785,"v":3},{"s":"tcpwin","t":790,"v":6},{"s":"tcpwin","t":795,"v":1},
{"s":"tcpwin","t":800,"v":2},{"s":"tcpwin","t":805,"v":4},{"s":"tcpwin","t":810,"v":1},{"s":"tcpwin","t":815,"v":5},{"s":"tcpwin","t":820,"v":2},{"s":"tcpwin","t":825,"v":3},{"s":"tcpwin","t":830,"v":1},{"s":"tcpwin","t":835,"v":4},{"s":"tcpwin","t":840,"v":10},{"s":"tcpwin","t":845,"v":2},
{"s":"tcpwin","t":850,"v":1},{"s":"tcpwin","t":855,"v":5},{"s":"tcpwin","t":860,"v":3},{"s":"tcpwin","t":865,"v":1},{"s":"tcpwin","t":870,"v":2},{"s":"tcpwin","t":875,"v":4},{"s":"tcpwin","t":880,"v":1},{"s":"tcpwin","t":885,"v":3},{"s":"tcpwin","t":890,"v":2},{"s":"tcpwin","t":895,"v":6},{"s":"tcpwin","t":900,"v":2},
{"s":"tcpwin","t":2.5,"v":3},{"s":"tcpwin","t":7.5,"v":2},{"s":"tcpwin","t":12.5,"v":1},{"s":"tcpwin","t":17.5,"v":4},{"s":"tcpwin","t":22.5,"v":2},{"s":"tcpwin","t":27.5,"v":1},{"s":"tcpwin","t":32.5,"v":3},{"s":"tcpwin","t":37.5,"v":2},{"s":"tcpwin","t":42.5,"v":1},{"s":"tcpwin","t":47.5,"v":2},
{"s":"tcpwin","t":52.5,"v":1},{"s":"tcpwin","t":57.5,"v":3},{"s":"tcpwin","t":62.5,"v":1},{"s":"tcpwin","t":67.5,"v":2},{"s":"tcpwin","t":72.5,"v":1},{"s":"tcpwin","t":77.5,"v":2},{"s":"tcpwin","t":82.5,"v":1},{"s":"tcpwin","t":87.5,"v":2},{"s":"tcpwin","t":92.5,"v":1},{"s":"tcpwin","t":97.5,"v":2},
{"s":"tcpwin","t":102.5,"v":1},{"s":"tcpwin","t":107.5,"v":1},{"s":"tcpwin","t":112.5,"v":2},{"s":"tcpwin","t":117.5,"v":3},{"s":"tcpwin","t":122.5,"v":1},{"s":"tcpwin","t":127.5,"v":2},{"s":"tcpwin","t":132.5,"v":3},{"s":"tcpwin","t":137.5,"v":1},{"s":"tcpwin","t":142.5,"v":2},{"s":"tcpwin","t":147.5,"v":1},
{"s":"tcpwin","t":152.5,"v":2},{"s":"tcpwin","t":157.5,"v":1},{"s":"tcpwin","t":162.5,"v":2},{"s":"tcpwin","t":167.5,"v":3},{"s":"tcpwin","t":172.5,"v":1},{"s":"tcpwin","t":177.5,"v":2},{"s":"tcpwin","t":182.5,"v":1},{"s":"tcpwin","t":187.5,"v":2},{"s":"tcpwin","t":192.5,"v":1},{"s":"tcpwin","t":197.5,"v":3},
{"s":"tcpwin","t":202.5,"v":1},{"s":"tcpwin","t":207.5,"v":3},{"s":"tcpwin","t":212.5,"v":2},{"s":"tcpwin","t":217.5,"v":1},{"s":"tcpwin","t":222.5,"v":2},{"s":"tcpwin","t":227.5,"v":1},{"s":"tcpwin","t":232.5,"v":3},{"s":"tcpwin","t":237.5,"v":1},{"s":"tcpwin","t":242.5,"v":2},{"s":"tcpwin","t":247.5,"v":3},
{"s":"tcpwin","t":252.5,"v":2},{"s":"tcpwin","t":257.5,"v":1},{"s":"tcpwin","t":262.5,"v":2},{"s":"tcpwin","t":267.5,"v":1},{"s":"tcpwin","t":272.5,"v":3},{"s":"tcpwin","t":277.5,"v":1},{"s":"tcpwin","t":282.5,"v":2},{"s":"tcpwin","t":287.5,"v":3},{"s":"tcpwin","t":292.5,"v":1},{"s":"tcpwin","t":297.5,"v":2},
{"s":"tcpwin","t":302.5,"v":1},{"s":"tcpwin","t":307.5,"v":3},{"s":"tcpwin","t":312.5,"v":2},{"s":"tcpwin","t":317.5,"v":1},{"s":"tcpwin","t":322.5,"v":2},{"s":"tcpwin","t":327.5,"v":3},{"s":"tcpwin","t":332.5,"v":1},{"s":"tcpwin","t":337.5,"v":2},{"s":"tcpwin","t":342.5,"v":1},{"s":"tcpwin","t":347.5,"v":3},
{"s":"tcpwin","t":352.5,"v":2},{"s":"tcpwin","t":357.5,"v":1},{"s":"tcpwin","t":362.5,"v":3},{"s":"tcpwin","t":367.5,"v":1},{"s":"tcpwin","t":372.5,"v":2},{"s":"tcpwin","t":377.5,"v":1},{"s":"tcpwin","t":382.5,"v":3},{"s":"tcpwin","t":387.5,"v":2},{"s":"tcpwin","t":392.5,"v":1},{"s":"tcpwin","t":397.5,"v":3},
{"s":"tcpwin","t":402.5,"v":2},{"s":"tcpwin","t":407.5,"v":1},{"s":"tcpwin","t":412.5,"v":3},{"s":"tcpwin","t":417.5,"v":1},{"s":"tcpwin","t":422.5,"v":2},{"s":"tcpwin","t":427.5,"v":2},{"s":"tcpwin","t":432.5,"v":3},{"s":"tcpwin","t":437.5,"v":1},{"s":"tcpwin","t":442.5,"v":2},{"s":"tcpwin","t":447.5,"v":3},
{"s":"tcpwin","t":452.5,"v":1},{"s":"tcpwin","t":457.5,"v":2},{"s":"tcpwin","t":462.5,"v":3},{"s":"tcpwin","t":467.5,"v":1},{"s":"tcpwin","t":472.5,"v":2},{"s":"tcpwin","t":477.5,"v":3},{"s":"tcpwin","t":482.5,"v":1},{"s":"tcpwin","t":487.5,"v":2},{"s":"tcpwin","t":492.5,"v":1},{"s":"tcpwin","t":497.5,"v":3},
{"s":"tcpwin","t":502.5,"v":2},{"s":"tcpwin","t":507.5,"v":1},{"s":"tcpwin","t":512.5,"v":3},{"s":"tcpwin","t":517.5,"v":2},{"s":"tcpwin","t":522.5,"v":1},{"s":"tcpwin","t":527.5,"v":2},{"s":"tcpwin","t":532.5,"v":1},{"s":"tcpwin","t":537.5,"v":3},{"s":"tcpwin","t":542.5,"v":1},{"s":"tcpwin","t":547.5,"v":2},
{"s":"tcpwin","t":552.5,"v":2},{"s":"tcpwin","t":557.5,"v":3},{"s":"tcpwin","t":562.5,"v":1},{"s":"tcpwin","t":567.5,"v":1},{"s":"tcpwin","t":572.5,"v":2},{"s":"tcpwin","t":577.5,"v":3},{"s":"tcpwin","t":582.5,"v":1},{"s":"tcpwin","t":587.5,"v":2},{"s":"tcpwin","t":592.5,"v":1},{"s":"tcpwin","t":597.5,"v":3},
{"s":"tcpwin","t":602.5,"v":1},{"s":"tcpwin","t":607.5,"v":2},{"s":"tcpwin","t":612.5,"v":3},{"s":"tcpwin","t":617.5,"v":1},{"s":"tcpwin","t":622.5,"v":2},{"s":"tcpwin","t":627.5,"v":3},{"s":"tcpwin","t":632.5,"v":2},{"s":"tcpwin","t":637.5,"v":1},{"s":"tcpwin","t":642.5,"v":2},{"s":"tcpwin","t":647.5,"v":1},
{"s":"tcpwin","t":652.5,"v":3},{"s":"tcpwin","t":657.5,"v":2},{"s":"tcpwin","t":662.5,"v":1},{"s":"tcpwin","t":667.5,"v":2},{"s":"tcpwin","t":672.5,"v":1},{"s":"tcpwin","t":677.5,"v":2},{"s":"tcpwin","t":682.5,"v":3},{"s":"tcpwin","t":687.5,"v":2},{"s":"tcpwin","t":692.5,"v":1},{"s":"tcpwin","t":697.5,"v":3},
{"s":"tcpwin","t":702.5,"v":2},{"s":"tcpwin","t":707.5,"v":1},{"s":"tcpwin","t":712.5,"v":2},{"s":"tcpwin","t":717.5,"v":3},{"s":"tcpwin","t":722.5,"v":1},{"s":"tcpwin","t":727.5,"v":2},{"s":"tcpwin","t":732.5,"v":3},{"s":"tcpwin","t":737.5,"v":1},{"s":"tcpwin","t":742.5,"v":3},{"s":"tcpwin","t":747.5,"v":2},
{"s":"tcpwin","t":752.5,"v":1},{"s":"tcpwin","t":757.5,"v":2},{"s":"tcpwin","t":762.5,"v":3},{"s":"tcpwin","t":767.5,"v":1},{"s":"tcpwin","t":772.5,"v":3},{"s":"tcpwin","t":777.5,"v":2},{"s":"tcpwin","t":782.5,"v":1},{"s":"tcpwin","t":787.5,"v":2},{"s":"tcpwin","t":792.5,"v":1},{"s":"tcpwin","t":797.5,"v":3},
{"s":"tcpwin","t":802.5,"v":3},{"s":"tcpwin","t":807.5,"v":1},{"s":"tcpwin","t":812.5,"v":2},{"s":"tcpwin","t":817.5,"v":3},{"s":"tcpwin","t":822.5,"v":1},{"s":"tcpwin","t":827.5,"v":2},{"s":"tcpwin","t":832.5,"v":3},{"s":"tcpwin","t":837.5,"v":1},{"s":"tcpwin","t":842.5,"v":2},{"s":"tcpwin","t":847.5,"v":1},
{"s":"tcpwin","t":852.5,"v":2},{"s":"tcpwin","t":857.5,"v":1},{"s":"tcpwin","t":862.5,"v":3},{"s":"tcpwin","t":867.5,"v":2},{"s":"tcpwin","t":872.5,"v":1},{"s":"tcpwin","t":877.5,"v":2},{"s":"tcpwin","t":882.5,"v":3},{"s":"tcpwin","t":887.5,"v":1},{"s":"tcpwin","t":892.5,"v":2},{"s":"tcpwin","t":897.5,"v":1}
]
},
"concat": [
{"width": 271, "height": 206, "title": "(a) 2.5 × Congested", "data": {"name": "a"},
 "layer": [
  {"transform": [{"filter": "datum.s!='pgmnak' && datum.s!='pgmacker'"}],
   "mark": {"type": "line", "strokeWidth": 1.2, "clip": true},
   "encoding": {
    "x": {"field": "t", "type": "quantitative", "scale": {"domain": [0, 900], "nice": false}, "axis": {"orient": "bottom", "title": "time (second)", "values": [0,100,200,300,400,500,600,700,800,900]}},
    "y": {"field": "v", "type": "quantitative", "scale": {"domain": [0, 600], "nice": false}, "axis": {"orient": "left", "title": "sequence number (packet)", "titleX": -66, "values": [0,100,200,300,400,500,600]}},
    "color": {"field": "s", "type": "nominal", "scale": {"domain": ["pgmdata","pgmack","pgmnak","pgmacker","tcpdata","tcpack"], "range": ["#00ff00","#0000ff","#00ff00","#0000ff","#ff0000","#ff00ff"]},
     "legend": {"title": null, "orient": "none", "legendX": 215, "legendY": 13, "labelExpr": "'\"' + datum.label + '\"'",
      "encode": {"entries": {"update": {"width": {"value": 100}, "height": {"value": 14}}}, "symbols": {"update": {"shape": {"signal": "datum.value=='pgmnak' ? 'diamond' : datum.value=='pgmacker' ? 'M-1,0H1M0,-1V1' : 'stroke'"}, "size": {"signal": "datum.value=='pgmnak' ? 45 : datum.value=='pgmacker' ? 55 : 700"}, "strokeDash": {"signal": "datum.value=='pgmack'||datum.value=='tcpwin' ? [5,3] : datum.value=='tcpdata' ? [3,3] : datum.value=='tcpack' ? [1,1.5] : [1,0]"}, "stroke": {"signal": "indexof(['pgmdata','pgmnak','pgmccwin'],datum.value)>=0 ? '#00ff00' : indexof(['pgmack','pgmacker','tcpwin'],datum.value)>=0 ? '#0000ff' : datum.value=='tcpdata' ? '#ff0000' : '#ff00ff'"}, "fill": {"value": "transparent"}, "strokeWidth": {"value": 1.2}, "opacity": {"value": 1}}},
       "labels": {"update": {"fill": {"signal": "indexof(['pgmdata','pgmnak','pgmccwin'],datum.value)>=0 ? '#00ff00' : indexof(['pgmack','pgmacker','tcpwin'],datum.value)>=0 ? '#0000ff' : datum.value=='tcpdata' ? '#ff0000' : '#ff00ff'"}}}}}},
    "strokeDash": {"field": "s", "type": "nominal", "scale": {"domain": ["pgmdata","pgmack","tcpdata","tcpack"], "range": [[1,0],[5,3],[3,3],[1,1.5]]}, "legend": null}
   }},
  {"transform": [{"filter": "datum.s=='pgmnak' || datum.s=='pgmacker'"}],
   "mark": {"type": "point", "filled": false, "strokeWidth": 1.1, "opacity": 1, "size": 45, "clip": true},
   "encoding": {
    "x": {"field": "t", "type": "quantitative", "scale": {"domain": [0, 900], "nice": false}, "axis": {"orient": "top", "title": "1PGM/TCP(src4 ~ dst4)", "labels": false, "values": [0,100,200,300,400,500,600,700,800,900]}},
    "y": {"field": "v", "type": "quantitative", "scale": {"domain": [0, 600], "nice": false}, "axis": {"orient": "right", "title": null, "labels": false, "values": [0,100,200,300,400,500,600]}},
    "color": {"field": "s", "type": "nominal", "scale": {"domain": ["pgmdata","pgmack","pgmnak","pgmacker","tcpdata","tcpack"], "range": ["#00ff00","#0000ff","#00ff00","#0000ff","#ff0000","#ff00ff"]}},
    "shape": {"field": "s", "type": "nominal", "scale": {"domain": ["pgmnak","pgmacker"], "range": ["diamond","M-1,0H1M0,-1V1"]}, "legend": null}
   }}
 ]},
{"width": 271, "height": 206, "title": "(b) 3.5 × Congested", "data": {"name": "b"},
 "layer": [
  {"transform": [{"filter": "datum.s!='pgmnak' && datum.s!='pgmacker'"}],
   "mark": {"type": "line", "strokeWidth": 1.2, "clip": true},
   "encoding": {
    "x": {"field": "t", "type": "quantitative", "scale": {"domain": [0, 900], "nice": false}, "axis": {"orient": "bottom", "title": "time (second)", "values": [0,100,200,300,400,500,600,700,800,900]}},
    "y": {"field": "v", "type": "quantitative", "scale": {"domain": [0, 1800], "nice": false}, "axis": {"orient": "left", "title": "sequence number (packet)", "titleX": -63, "values": [0,200,400,600,800,1000,1200,1400,1600,1800]}},
    "color": {"field": "s", "type": "nominal", "scale": {"domain": ["pgmdata","pgmack","pgmnak","pgmacker","tcpdata","tcpack"], "range": ["#00ff00","#0000ff","#00ff00","#0000ff","#ff0000","#ff00ff"]},
     "legend": {"title": null, "orient": "none", "legendX": 215, "legendY": 13, "labelExpr": "'\"' + datum.label + '\"'",
      "encode": {"entries": {"update": {"width": {"value": 100}, "height": {"value": 14}}}, "symbols": {"update": {"shape": {"signal": "datum.value=='pgmnak' ? 'diamond' : datum.value=='pgmacker' ? 'M-1,0H1M0,-1V1' : 'stroke'"}, "size": {"signal": "datum.value=='pgmnak' ? 45 : datum.value=='pgmacker' ? 55 : 700"}, "strokeDash": {"signal": "datum.value=='pgmack'||datum.value=='tcpwin' ? [5,3] : datum.value=='tcpdata' ? [3,3] : datum.value=='tcpack' ? [1,1.5] : [1,0]"}, "stroke": {"signal": "indexof(['pgmdata','pgmnak','pgmccwin'],datum.value)>=0 ? '#00ff00' : indexof(['pgmack','pgmacker','tcpwin'],datum.value)>=0 ? '#0000ff' : datum.value=='tcpdata' ? '#ff0000' : '#ff00ff'"}, "fill": {"value": "transparent"}, "strokeWidth": {"value": 1.2}, "opacity": {"value": 1}}},
       "labels": {"update": {"fill": {"signal": "indexof(['pgmdata','pgmnak','pgmccwin'],datum.value)>=0 ? '#00ff00' : indexof(['pgmack','pgmacker','tcpwin'],datum.value)>=0 ? '#0000ff' : datum.value=='tcpdata' ? '#ff0000' : '#ff00ff'"}}}}}},
    "strokeDash": {"field": "s", "type": "nominal", "scale": {"domain": ["pgmdata","pgmack","tcpdata","tcpack"], "range": [[1,0],[5,3],[3,3],[1,1.5]]}, "legend": null}
   }},
  {"transform": [{"filter": "datum.s=='pgmnak' || datum.s=='pgmacker'"}],
   "mark": {"type": "point", "filled": false, "strokeWidth": 1.1, "opacity": 1, "size": 45, "clip": true},
   "encoding": {
    "x": {"field": "t", "type": "quantitative", "scale": {"domain": [0, 900], "nice": false}, "axis": {"orient": "top", "title": "1PGM/TCP(src4 ~ dst4)", "labels": false, "values": [0,100,200,300,400,500,600,700,800,900]}},
    "y": {"field": "v", "type": "quantitative", "scale": {"domain": [0, 1800], "nice": false}, "axis": {"orient": "right", "title": null, "labels": false, "values": [0,200,400,600,800,1000,1200,1400,1600,1800]}},
    "color": {"field": "s", "type": "nominal", "scale": {"domain": ["pgmdata","pgmack","pgmnak","pgmacker","tcpdata","tcpack"], "range": ["#00ff00","#0000ff","#00ff00","#0000ff","#ff0000","#ff00ff"]}},
    "shape": {"field": "s", "type": "nominal", "scale": {"domain": ["pgmnak","pgmacker"], "range": ["diamond","M-1,0H1M0,-1V1"]}, "legend": null}
   }}
 ]},
{"width": 271, "height": 206, "title": "(c) 2.5 × Congested", "data": {"name": "c"},
 "layer": [
  {"transform": [{"filter": "datum.s=='pgmccwin'"}],
   "mark": {"type": "line", "strokeWidth": 1.2, "clip": true},
   "encoding": {
    "x": {"field": "t", "type": "quantitative", "scale": {"domain": [0, 900], "nice": false}, "axis": {"orient": "bottom", "title": "time (second)", "values": [0,100,200,300,400,500,600,700,800,900]}},
    "y": {"field": "v", "type": "quantitative", "scale": {"domain": [0, 20], "nice": false}, "axis": {"orient": "left", "title": "window size (packet)", "titleX": -66, "values": [0,2,4,6,8,10,12,14,16,18,20]}},
    "color": {"field": "s", "type": "nominal", "scale": {"domain": ["pgmccwin","tcpwin"], "range": ["#00ff00","#0000ff"]},
     "legend": {"title": null, "orient": "none", "legendX": 215, "legendY": 13, "labelExpr": "'\"' + datum.label + '\"'",
      "encode": {"entries": {"update": {"width": {"value": 100}, "height": {"value": 14}}}, "symbols": {"update": {"shape": {"value": "stroke"}, "size": {"value": 700}, "strokeDash": {"signal": "datum.value=='tcpwin' ? [5,3] : [1,0]"}, "stroke": {"signal": "datum.value=='tcpwin' ? '#0000ff' : '#00ff00'"}, "fill": {"value": "transparent"}, "strokeWidth": {"value": 1.2}, "opacity": {"value": 1}}},
       "labels": {"update": {"fill": {"signal": "datum.value=='tcpwin' ? '#0000ff' : '#00ff00'"}}}}}}
   }},
  {"transform": [{"filter": "datum.s=='tcpwin'"}],
   "mark": {"type": "line", "strokeWidth": 1.2, "strokeDash": [5,3], "clip": true},
   "encoding": {
    "x": {"field": "t", "type": "quantitative", "scale": {"domain": [0, 900], "nice": false}, "axis": {"orient": "top", "title": "PGM cc_window && TCP cc_window", "labels": false, "values": [0,100,200,300,400,500,600,700,800,900]}},
    "y": {"field": "v", "type": "quantitative", "scale": {"domain": [0, 20], "nice": false}, "axis": {"orient": "right", "title": null, "labels": false, "values": [0,2,4,6,8,10,12,14,16,18,20]}},
    "color": {"field": "s", "type": "nominal", "scale": {"domain": ["pgmccwin","tcpwin"], "range": ["#00ff00","#0000ff"]}}
   }}
 ]},
{"width": 271, "height": 206, "title": "(d) 3.5 × Congested", "data": {"name": "d"},
 "layer": [
  {"transform": [{"filter": "datum.s=='pgmccwin'"}],
   "mark": {"type": "line", "strokeWidth": 1.2, "clip": true},
   "encoding": {
    "x": {"field": "t", "type": "quantitative", "scale": {"domain": [0, 900], "nice": false}, "axis": {"orient": "bottom", "title": "time (second)", "values": [0,100,200,300,400,500,600,700,800,900]}},
    "y": {"field": "v", "type": "quantitative", "scale": {"domain": [0, 45], "nice": false}, "axis": {"orient": "left", "title": "window size (packet)", "titleX": -66, "values": [0,5,10,15,20,25,30,35,40,45]}},
    "color": {"field": "s", "type": "nominal", "scale": {"domain": ["pgmccwin","tcpwin"], "range": ["#00ff00","#0000ff"]},
     "legend": {"title": null, "orient": "none", "legendX": 215, "legendY": 13, "labelExpr": "'\"' + datum.label + '\"'",
      "encode": {"entries": {"update": {"width": {"value": 100}, "height": {"value": 14}}}, "symbols": {"update": {"shape": {"value": "stroke"}, "size": {"value": 700}, "strokeDash": {"signal": "datum.value=='tcpwin' ? [5,3] : [1,0]"}, "stroke": {"signal": "datum.value=='tcpwin' ? '#0000ff' : '#00ff00'"}, "fill": {"value": "transparent"}, "strokeWidth": {"value": 1.2}, "opacity": {"value": 1}}},
       "labels": {"update": {"fill": {"signal": "datum.value=='tcpwin' ? '#0000ff' : '#00ff00'"}}}}}}
   }},
  {"transform": [{"filter": "datum.s=='tcpwin'"}],
   "mark": {"type": "line", "strokeWidth": 1.2, "strokeDash": [5,3], "clip": true},
   "encoding": {
    "x": {"field": "t", "type": "quantitative", "scale": {"domain": [0, 900], "nice": false}, "axis": {"orient": "top", "title": "PGM cc_window && TCP cc_window", "labels": false, "values": [0,100,200,300,400,500,600,700,800,900]}},
    "y": {"field": "v", "type": "quantitative", "scale": {"domain": [0, 45], "nice": false}, "axis": {"orient": "right", "title": null, "labels": false, "values": [0,5,10,15,20,25,30,35,40,45]}},
    "color": {"field": "s", "type": "nominal", "scale": {"domain": ["pgmccwin","tcpwin"], "range": ["#00ff00","#0000ff"]}}
   }}
 ]},
{"width": 271, "height": 206, "title": {"text": "(e) 10 × Congested", "offset": 19}, "data": {"name": "e"},
 "layer": [
  {"transform": [{"filter": "datum.s!='pgmnak' && datum.s!='pgmacker'"}],
   "mark": {"type": "line", "strokeWidth": 1.2, "clip": true},
   "encoding": {
    "x": {"field": "t", "type": "quantitative", "scale": {"domain": [0, 900], "nice": false}, "axis": {"orient": "bottom", "title": "time (second)", "values": [0,100,200,300,400,500,600,700,800,900]}},
    "y": {"field": "v", "type": "quantitative", "scale": {"domain": [0, 7000], "nice": false}, "axis": {"orient": "left", "title": "sequence number (packet)", "titleX": -66, "values": [0,1000,2000,3000,4000,5000,6000,7000]}},
    "color": {"field": "s", "type": "nominal", "scale": {"domain": ["pgmdata","pgmack","pgmnak","pgmacker","tcpdata","tcpack"], "range": ["#00ff00","#0000ff","#00ff00","#0000ff","#ff0000","#ff00ff"]},
     "legend": {"title": null, "orient": "none", "legendX": 215, "legendY": 13, "labelExpr": "'\"' + datum.label + '\"'",
      "encode": {"entries": {"update": {"width": {"value": 100}, "height": {"value": 14}}}, "symbols": {"update": {"shape": {"signal": "datum.value=='pgmnak' ? 'diamond' : datum.value=='pgmacker' ? 'M-1,0H1M0,-1V1' : 'stroke'"}, "size": {"signal": "datum.value=='pgmnak' ? 45 : datum.value=='pgmacker' ? 55 : 700"}, "strokeDash": {"signal": "datum.value=='pgmack'||datum.value=='tcpwin' ? [5,3] : datum.value=='tcpdata' ? [3,3] : datum.value=='tcpack' ? [1,1.5] : [1,0]"}, "stroke": {"signal": "indexof(['pgmdata','pgmnak','pgmccwin'],datum.value)>=0 ? '#00ff00' : indexof(['pgmack','pgmacker','tcpwin'],datum.value)>=0 ? '#0000ff' : datum.value=='tcpdata' ? '#ff0000' : '#ff00ff'"}, "fill": {"value": "transparent"}, "strokeWidth": {"value": 1.2}, "opacity": {"value": 1}}},
       "labels": {"update": {"fill": {"signal": "indexof(['pgmdata','pgmnak','pgmccwin'],datum.value)>=0 ? '#00ff00' : indexof(['pgmack','pgmacker','tcpwin'],datum.value)>=0 ? '#0000ff' : datum.value=='tcpdata' ? '#ff0000' : '#ff00ff'"}}}}}},
    "strokeDash": {"field": "s", "type": "nominal", "scale": {"domain": ["pgmdata","pgmack","tcpdata","tcpack"], "range": [[1,0],[5,3],[3,3],[1,1.5]]}, "legend": null}
   }},
  {"transform": [{"filter": "datum.s=='pgmnak' || datum.s=='pgmacker'"}],
   "mark": {"type": "point", "filled": false, "strokeWidth": 1.1, "opacity": 1, "size": 45, "clip": true},
   "encoding": {
    "x": {"field": "t", "type": "quantitative", "scale": {"domain": [0, 900], "nice": false}, "axis": {"orient": "top", "title": "1PGM/TCP(src4 ~ dst4)", "labels": false, "values": [0,100,200,300,400,500,600,700,800,900]}},
    "y": {"field": "v", "type": "quantitative", "scale": {"domain": [0, 7000], "nice": false}, "axis": {"orient": "right", "title": null, "labels": false, "values": [0,1000,2000,3000,4000,5000,6000,7000]}},
    "color": {"field": "s", "type": "nominal", "scale": {"domain": ["pgmdata","pgmack","pgmnak","pgmacker","tcpdata","tcpack"], "range": ["#00ff00","#0000ff","#00ff00","#0000ff","#ff0000","#ff00ff"]}},
    "shape": {"field": "s", "type": "nominal", "scale": {"domain": ["pgmnak","pgmacker"], "range": ["diamond","M-1,0H1M0,-1V1"]}, "legend": null}
   }}
 ]},
{"width": 271, "height": 206, "title": {"text": "(f) 80 × Congested", "offset": 19}, "data": {"name": "f"},
 "layer": [
  {"transform": [{"filter": "datum.s!='pgmnak' && datum.s!='pgmacker'"}],
   "mark": {"type": "line", "strokeWidth": 1.2, "clip": true},
   "encoding": {
    "x": {"field": "t", "type": "quantitative", "scale": {"domain": [0, 900], "nice": false}, "axis": {"orient": "bottom", "title": "time (second)", "values": [0,100,200,300,400,500,600,700,800,900]}},
    "y": {"field": "v", "type": "quantitative", "scale": {"domain": [0, 6000], "nice": false}, "axis": {"orient": "left", "title": "sequence number (packet)", "titleX": -63, "values": [0,1000,2000,3000,4000,5000,6000]}},
    "color": {"field": "s", "type": "nominal", "scale": {"domain": ["pgmdata","pgmack","pgmnak","pgmacker","tcpdata","tcpack"], "range": ["#00ff00","#0000ff","#00ff00","#0000ff","#ff0000","#ff00ff"]},
     "legend": {"title": null, "orient": "none", "legendX": 215, "legendY": 13, "labelExpr": "'\"' + datum.label + '\"'",
      "encode": {"entries": {"update": {"width": {"value": 100}, "height": {"value": 14}}}, "symbols": {"update": {"shape": {"signal": "datum.value=='pgmnak' ? 'diamond' : datum.value=='pgmacker' ? 'M-1,0H1M0,-1V1' : 'stroke'"}, "size": {"signal": "datum.value=='pgmnak' ? 45 : datum.value=='pgmacker' ? 55 : 700"}, "strokeDash": {"signal": "datum.value=='pgmack'||datum.value=='tcpwin' ? [5,3] : datum.value=='tcpdata' ? [3,3] : datum.value=='tcpack' ? [1,1.5] : [1,0]"}, "stroke": {"signal": "indexof(['pgmdata','pgmnak','pgmccwin'],datum.value)>=0 ? '#00ff00' : indexof(['pgmack','pgmacker','tcpwin'],datum.value)>=0 ? '#0000ff' : datum.value=='tcpdata' ? '#ff0000' : '#ff00ff'"}, "fill": {"value": "transparent"}, "strokeWidth": {"value": 1.2}, "opacity": {"value": 1}}},
       "labels": {"update": {"fill": {"signal": "indexof(['pgmdata','pgmnak','pgmccwin'],datum.value)>=0 ? '#00ff00' : indexof(['pgmack','pgmacker','tcpwin'],datum.value)>=0 ? '#0000ff' : datum.value=='tcpdata' ? '#ff0000' : '#ff00ff'"}}}}}},
    "strokeDash": {"field": "s", "type": "nominal", "scale": {"domain": ["pgmdata","pgmack","tcpdata","tcpack"], "range": [[1,0],[5,3],[3,3],[1,1.5]]}, "legend": null}
   }},
  {"transform": [{"filter": "datum.s=='pgmnak' || datum.s=='pgmacker'"}],
   "mark": {"type": "point", "filled": false, "strokeWidth": 1.1, "opacity": 1, "size": 45, "clip": true},
   "encoding": {
    "x": {"field": "t", "type": "quantitative", "scale": {"domain": [0, 900], "nice": false}, "axis": {"orient": "top", "title": "1PGM/TCP(src4 ~ dst4)", "labels": false, "values": [0,100,200,300,400,500,600,700,800,900]}},
    "y": {"field": "v", "type": "quantitative", "scale": {"domain": [0, 6000], "nice": false}, "axis": {"orient": "right", "title": null, "labels": false, "values": [0,1000,2000,3000,4000,5000,6000]}},
    "color": {"field": "s", "type": "nominal", "scale": {"domain": ["pgmdata","pgmack","pgmnak","pgmacker","tcpdata","tcpack"], "range": ["#00ff00","#0000ff","#00ff00","#0000ff","#ff0000","#ff00ff"]}},
    "shape": {"field": "s", "type": "nominal", "scale": {"domain": ["pgmnak","pgmacker"], "range": ["diamond","M-1,0H1M0,-1V1"]}, "legend": null}
   }}
 ]},
{"width": 271, "height": 206, "title": {"text": "(g) 10 × Congested", "offset": 19}, "data": {"name": "g"},
 "layer": [
  {"transform": [{"filter": "datum.s=='pgmccwin'"}],
   "mark": {"type": "line", "strokeWidth": 1.2, "clip": true},
   "encoding": {
    "x": {"field": "t", "type": "quantitative", "scale": {"domain": [0, 900], "nice": false}, "axis": {"orient": "bottom", "title": "time (second)", "values": [0,100,200,300,400,500,600,700,800,900]}},
    "y": {"field": "v", "type": "quantitative", "scale": {"domain": [0, 35], "nice": false}, "axis": {"orient": "left", "title": "window size (packet)", "titleX": -66, "values": [0,5,10,15,20,25,30,35]}},
    "color": {"field": "s", "type": "nominal", "scale": {"domain": ["pgmccwin","tcpwin"], "range": ["#00ff00","#0000ff"]},
     "legend": {"title": null, "orient": "none", "legendX": 215, "legendY": 13, "labelExpr": "'\"' + datum.label + '\"'",
      "encode": {"entries": {"update": {"width": {"value": 100}, "height": {"value": 14}}}, "symbols": {"update": {"shape": {"value": "stroke"}, "size": {"value": 700}, "strokeDash": {"signal": "datum.value=='tcpwin' ? [5,3] : [1,0]"}, "stroke": {"signal": "datum.value=='tcpwin' ? '#0000ff' : '#00ff00'"}, "fill": {"value": "transparent"}, "strokeWidth": {"value": 1.2}, "opacity": {"value": 1}}},
       "labels": {"update": {"fill": {"signal": "datum.value=='tcpwin' ? '#0000ff' : '#00ff00'"}}}}}}
   }},
  {"transform": [{"filter": "datum.s=='tcpwin'"}],
   "mark": {"type": "line", "strokeWidth": 1.2, "strokeDash": [5,3], "clip": true},
   "encoding": {
    "x": {"field": "t", "type": "quantitative", "scale": {"domain": [0, 900], "nice": false}, "axis": {"orient": "top", "title": "PGM cc_window && TCP cc_window", "labels": false, "values": [0,100,200,300,400,500,600,700,800,900]}},
    "y": {"field": "v", "type": "quantitative", "scale": {"domain": [0, 35], "nice": false}, "axis": {"orient": "right", "title": null, "labels": false, "values": [0,5,10,15,20,25,30,35]}},
    "color": {"field": "s", "type": "nominal", "scale": {"domain": ["pgmccwin","tcpwin"], "range": ["#00ff00","#0000ff"]}}
   }}
 ]},
{"width": 271, "height": 206, "title": {"text": "(h) 80 × Congested", "offset": 19}, "data": {"name": "h"},
 "layer": [
  {"transform": [{"filter": "datum.s=='pgmccwin'"}],
   "mark": {"type": "line", "strokeWidth": 1.2, "clip": true},
   "encoding": {
    "x": {"field": "t", "type": "quantitative", "scale": {"domain": [0, 900], "nice": false}, "axis": {"orient": "bottom", "title": "time (second)", "values": [0,100,200,300,400,500,600,700,800,900]}},
    "y": {"field": "v", "type": "quantitative", "scale": {"domain": [0, 30], "nice": false}, "axis": {"orient": "left", "title": "window size (packet)", "titleX": -66, "values": [0,5,10,15,20,25,30]}},
    "color": {"field": "s", "type": "nominal", "scale": {"domain": ["pgmccwin","tcpwin"], "range": ["#00ff00","#0000ff"]},
     "legend": {"title": null, "orient": "none", "legendX": 215, "legendY": 13, "labelExpr": "'\"' + datum.label + '\"'",
      "encode": {"entries": {"update": {"width": {"value": 100}, "height": {"value": 14}}}, "symbols": {"update": {"shape": {"value": "stroke"}, "size": {"value": 700}, "strokeDash": {"signal": "datum.value=='tcpwin' ? [5,3] : [1,0]"}, "stroke": {"signal": "datum.value=='tcpwin' ? '#0000ff' : '#00ff00'"}, "fill": {"value": "transparent"}, "strokeWidth": {"value": 1.2}, "opacity": {"value": 1}}},
       "labels": {"update": {"fill": {"signal": "datum.value=='tcpwin' ? '#0000ff' : '#00ff00'"}}}}}}
   }},
  {"transform": [{"filter": "datum.s=='tcpwin'"}],
   "mark": {"type": "line", "strokeWidth": 1.2, "strokeDash": [5,3], "clip": true},
   "encoding": {
    "x": {"field": "t", "type": "quantitative", "scale": {"domain": [0, 900], "nice": false}, "axis": {"orient": "top", "title": "PGM cc_window && TCP cc_window", "labels": false, "values": [0,100,200,300,400,500,600,700,800,900]}},
    "y": {"field": "v", "type": "quantitative", "scale": {"domain": [0, 30], "nice": false}, "axis": {"orient": "right", "title": null, "labels": false, "values": [0,5,10,15,20,25,30]}},
    "color": {"field": "s", "type": "nominal", "scale": {"domain": ["pgmccwin","tcpwin"], "range": ["#00ff00","#0000ff"]}}
   }}
 ]}
],
"columns": 4,
"spacing": {"row": 162, "column": 94},
"bounds": "flush",
"resolve": {"scale": {"color": "independent", "shape": "independent", "strokeDash": "independent"}, "legend": {"color": "independent", "shape": "independent", "strokeDash": "independent"}}
}
